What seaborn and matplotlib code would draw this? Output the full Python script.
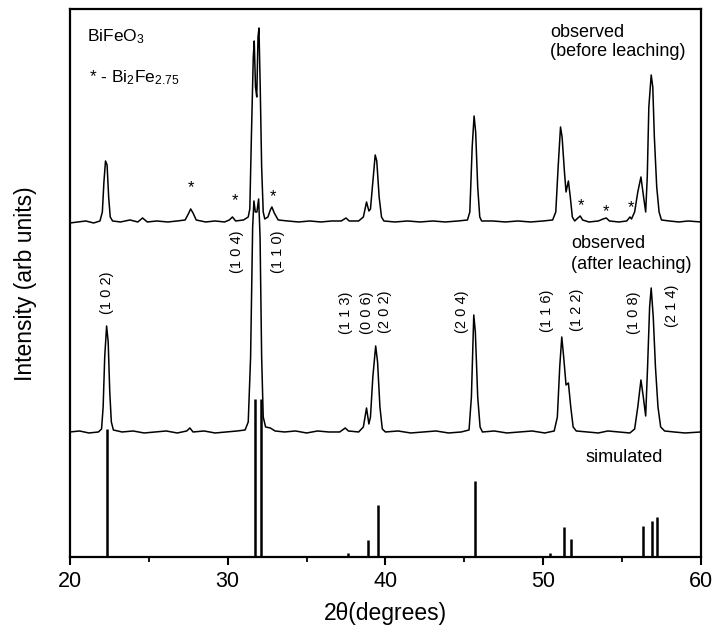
import numpy as np
import pandas as pd
import seaborn as sns
import matplotlib.pyplot as plt
from matplotlib.ticker import MultipleLocator

# observed pattern before leaching (2theta, intensity)
before_x = [20.0, 20.5, 21.0, 21.5, 21.9, 22.05, 22.15, 22.25, 22.35, 22.45, 22.55, 22.7,
            23.2, 23.8, 24.3, 24.6, 24.9, 25.5, 26.2, 26.8, 27.3, 27.5, 27.65, 27.8, 28.0,
            28.6, 29.2, 29.8, 30.1, 30.3, 30.5, 31.0, 31.3, 31.4, 31.5, 31.62, 31.68, 31.76,
            31.84, 31.92, 31.98, 32.06, 32.15, 32.25, 32.35, 32.55, 32.7, 32.8, 32.95, 33.2,
            33.8, 34.5, 35.2, 35.9, 36.6, 37.2, 37.5, 37.7, 38.3, 38.6, 38.8, 38.95, 39.05,
            39.2, 39.35, 39.45, 39.6, 39.75, 39.9, 40.6, 41.4, 42.2, 43.0, 43.8, 44.6, 45.2,
            45.35, 45.5, 45.62, 45.72, 45.85, 45.98, 46.1, 46.8, 47.6, 48.4, 49.2, 50.0, 50.6,
            50.8, 50.95, 51.1, 51.2, 51.35, 51.45, 51.6, 51.72, 51.85, 52.0, 52.2, 52.35, 52.5,
            52.9, 53.5, 53.8, 54.0, 54.2, 54.8, 55.3, 55.5, 55.6, 55.8, 56.0, 56.2, 56.35,
            56.5, 56.6, 56.7, 56.85, 56.95, 57.05, 57.2, 57.35, 57.5, 58.0, 58.6, 59.2, 60.0]
before_y = [334, 335, 336, 334, 336, 345, 375, 396, 392, 360, 340, 336,
            335, 337, 335, 339, 335, 336, 335, 336, 337, 343, 348, 344, 337,
            335, 336, 335, 337, 340, 336, 337, 340, 348, 420, 500, 516, 470,
            460, 520, 529, 470, 390, 345, 338, 340, 347, 350, 344, 337,
            336, 335, 336, 335, 336, 336, 339, 336, 336, 340, 355, 346, 348,
            375, 402, 396, 360, 340, 336, 335, 336, 335, 336, 335, 336, 337,
            345, 410, 441, 425, 370, 340, 336, 336, 335, 336, 335, 336, 337,
            345, 390, 430, 420, 385, 365, 376, 360, 340, 336, 339, 341, 337,
            335, 336, 338, 339, 336, 335, 336, 340, 338, 345, 365, 380, 362,
            345, 380, 450, 482, 470, 420, 370, 345, 337, 336, 335, 336, 335]

# observed pattern after leaching
after_x = [20.0, 20.6, 21.2, 21.8, 22.0, 22.1, 22.2, 22.32, 22.42, 22.52, 22.62, 22.75,
           23.3, 24.0, 24.7, 25.4, 26.1, 26.8, 27.4, 27.6, 27.8, 28.5, 29.2, 29.9, 30.6,
           31.1, 31.3, 31.45, 31.58, 31.66, 31.75, 31.85, 31.96, 32.05, 32.15, 32.25, 32.4,
           32.7, 33.0, 33.6, 34.3, 35.0, 35.7, 36.4, 37.1, 37.45, 37.65, 38.3, 38.6, 38.8,
           38.95, 39.05, 39.2, 39.38, 39.5, 39.65, 39.8, 40.0, 40.8, 41.6, 42.4, 43.2, 44.0,
           44.8, 45.3, 45.45, 45.6, 45.7, 45.85, 46.0, 46.15, 46.9, 47.7, 48.5, 49.3, 50.1,
           50.7, 50.9, 51.05, 51.18, 51.3, 51.45, 51.6, 51.75, 51.9, 52.1, 52.8, 53.5, 54.1,
           54.8, 55.5, 55.8, 56.0, 56.2, 56.35, 56.5, 56.62, 56.75, 56.85, 56.98, 57.12,
           57.28, 57.45, 57.7, 58.3, 59.0, 60.0]
after_y = [125, 126, 124, 125, 128, 150, 200, 231, 215, 165, 135, 127,
           125, 126, 124, 125, 126, 124, 126, 129, 125, 126, 124, 125, 126,
           127, 135, 200, 330, 356, 345, 345, 358, 320, 200, 140, 130,
           129, 126, 125, 126, 124, 126, 125, 125, 129, 126, 125, 130, 149,
           133, 140, 180, 211, 195, 150, 128, 125, 126, 124, 125, 126, 124,
           125, 127, 160, 242, 225, 160, 130, 125, 126, 124, 125, 126, 124,
           126, 140, 190, 220, 200, 172, 174, 150, 130, 126, 125, 124, 126,
           125, 124, 128, 150, 177, 160, 141, 190, 250, 269, 240, 190,
           150, 130, 126, 125, 124, 125]

# simulated reflections (sticks)
sim_pos = [22.35, 31.7, 32.1, 37.6, 38.9, 39.5, 45.7, 50.45, 51.3, 51.75, 56.3, 56.9, 57.2]
sim_int = [128, 158, 158, 4, 17, 52, 76, 4, 30, 18, 31, 36, 40]

# Miller indices and where they are written
hkl_labels = ['(1 0 2)', '(1 0 4)', '(1 1 0)', '(1 1 3)', '(0 0 6)', '(2 0 2)',
              '(2 0 4)', '(1 1 6)', '(1 2 2)', '(1 0 8)', '(2 1 4)']
hkl_x = [22.34, 30.57, 33.16, 37.5, 38.8, 40.0, 44.87, 50.25, 52.15, 55.76, 58.16]
hkl_y = [264, 305, 305, 244, 244, 245, 245, 246, 247, 244, 251]

# impurity peaks marked with *
star_x = [27.66, 30.45, 32.9, 52.4, 53.97, 55.55]
star_y = [369, 356, 360, 351, 345, 349]

sns.set_style('white')
plt.rcParams['font.family'] = ['Liberation Sans', 'DejaVu Sans']
plt.rcParams['mathtext.fontset'] = 'custom'
plt.rcParams['mathtext.rm'] = 'Liberation Sans'
plt.rcParams['mathtext.it'] = 'Liberation Sans'
plt.rcParams['text.color'] = 'black'
plt.rcParams['axes.labelcolor'] = 'black'
plt.rcParams['xtick.color'] = 'black'

fig = plt.figure(figsize=(7.13, 6.32), dpi=100)
ax = fig.add_axes([0.0982, 0.1187, 0.8848, 0.8663])

df_before = pd.DataFrame({'two_theta': before_x, 'intensity': before_y})
df_after = pd.DataFrame({'two_theta': after_x, 'intensity': after_y})

sns.lineplot(data=df_before, x='two_theta', y='intensity', estimator=None,
             color='black', lw=1.1, ax=ax)
sns.lineplot(data=df_after, x='two_theta', y='intensity', estimator=None,
             color='black', lw=1.1, ax=ax)
ax.vlines(sim_pos, 0, sim_int, color='black', lw=1.8)

for lab, x, y in zip(hkl_labels, hkl_x, hkl_y):
    ax.text(x, y, lab, rotation=90, ha='center', va='center', fontsize=10.5)
for x, y in zip(star_x, star_y):
    ax.text(x, y, '*', ha='center', va='center', fontsize=12)

ax.text(21.08, 520, r'BiFeO$_3$', ha='left', va='center', fontsize=12.5)
ax.text(21.2, 479, r'* - Bi$_2$Fe$_{2.75}$', ha='left', va='center', fontsize=12.5)
ax.text(50.45, 515, 'observed\n(before leaching)', ha='left', va='center',
        fontsize=13, linespacing=1.15)
ax.text(51.78, 303, 'observed\n(after leaching)', ha='left', va='center',
        fontsize=13, linespacing=1.25)
ax.text(52.7, 99, 'simulated', ha='left', va='center', fontsize=13)

ax.set_xlim(20, 60)
ax.set_ylim(0, 547.5)
ax.xaxis.set_major_locator(MultipleLocator(10))
ax.xaxis.set_minor_locator(MultipleLocator(5))
ax.tick_params(axis='x', which='major', direction='out', length=6, width=1.5,
               labelsize=15.5, pad=4, bottom=True)
ax.tick_params(axis='x', which='minor', direction='out', length=3.5, width=1.3,
               bottom=True)
ax.set_yticks([])
ax.set_xlabel('2θ(degrees)', fontsize=16.5, labelpad=7)
ax.set_ylabel('Intensity (arb units)', fontsize=16.5, labelpad=24)
for sp in ax.spines.values():
    sp.set_linewidth(1.6)
    sp.set_color('black')

fig.savefig('out.png', dpi=100)
